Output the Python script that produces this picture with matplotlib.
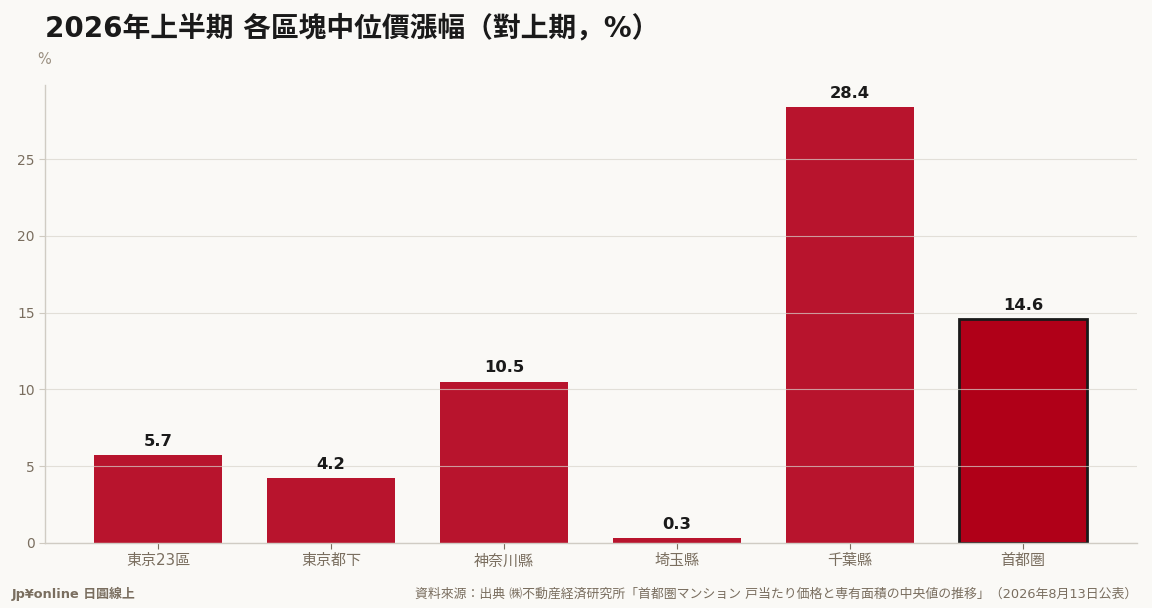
import matplotlib
matplotlib.use("Agg")
import matplotlib.pyplot as plt

categories = ["東京23區", "東京都下", "神奈川縣", "埼玉縣", "千葉縣", "首都圏"]
values = [5.7, 4.2, 10.5, 0.3, 28.4, 14.6]
yticks = [0, 5, 10, 15, 20, 25]

plt.rcParams['font.family'] = ['DejaVu Sans', 'Noto Sans CJK JP']

bg = '#faf9f6'
bar_color = '#b8142d'
hi_color = '#b00018'
tick_color = '#7a6e5f'

fig = plt.figure(figsize=(11.52, 6.08), dpi=100, facecolor=bg)
ax = fig.add_axes([45/1152, 1-543/608, (1137-45)/1152, (543-85)/608], facecolor=bg)

x = list(range(len(categories)))
colors = [bar_color]*(len(categories)-1) + [hi_color]
bars = ax.bar(x, values, width=0.74, color=colors, zorder=1)
bars[-1].set_edgecolor('#1a1a1a')
bars[-1].set_linewidth(2)

for xi, v in zip(x, values):
    ax.annotate(f"{v:.1f}", (xi, v), xytext=(0, 4.5), textcoords='offset points',
                ha='center', va='bottom', fontsize=11.8, fontweight='bold',
                color='#1a1a1a', zorder=5)

ax.set_xlim(-0.653, 5.66)
ax.set_ylim(0, 29.82)
ax.set_yticks(yticks)
ax.set_xticks(x)
ax.set_xticklabels(categories, fontsize=10.8, color=tick_color)
ax.tick_params(axis='y', labelsize=10, colors=tick_color, length=4, color='#cfcac0')
ax.tick_params(axis='x', length=4, color='#7a6e5f', labelcolor=tick_color)
for t in ax.get_yticklabels():
    t.set_color(tick_color)

ax.grid(axis='y', color='#d8d4cc', alpha=0.7, linewidth=0.8, zorder=2)
ax.set_axisbelow(False)
for s in ['top', 'right']:
    ax.spines[s].set_visible(False)
for s in ['left', 'bottom']:
    ax.spines[s].set_color('#d0ccc4')
    ax.spines[s].set_linewidth(1)
    ax.spines[s].set_zorder(3)

fig.text(45/1152, 1-28/608, "2026年上半期 各區塊中位價漲幅（對上期，%）",
         fontsize=20, fontweight='bold', color='#1a1a1a', ha='left', va='center')
fig.text(44/1152, 1-59/608, "%", fontsize=10.5, color='#9a8f80', ha='center', va='center')

fig.text(12/1152, 1-594/608, "Jp¥online 日圓線上", fontsize=9.3, fontweight='bold',
         color='#7a6e5f', ha='left', va='center')
fig.text(1137/1152, 1-594/608,
         "資料來源：出典 ㈱不動産経済研究所「首都圏マンション 戸当たり価格と専有面積の中央値の推移」（2026年8月13日公表）",
         fontsize=9.3, color='#7a6e5f', ha='right', va='center')

fig.savefig("out.png", dpi=100, facecolor=bg)
